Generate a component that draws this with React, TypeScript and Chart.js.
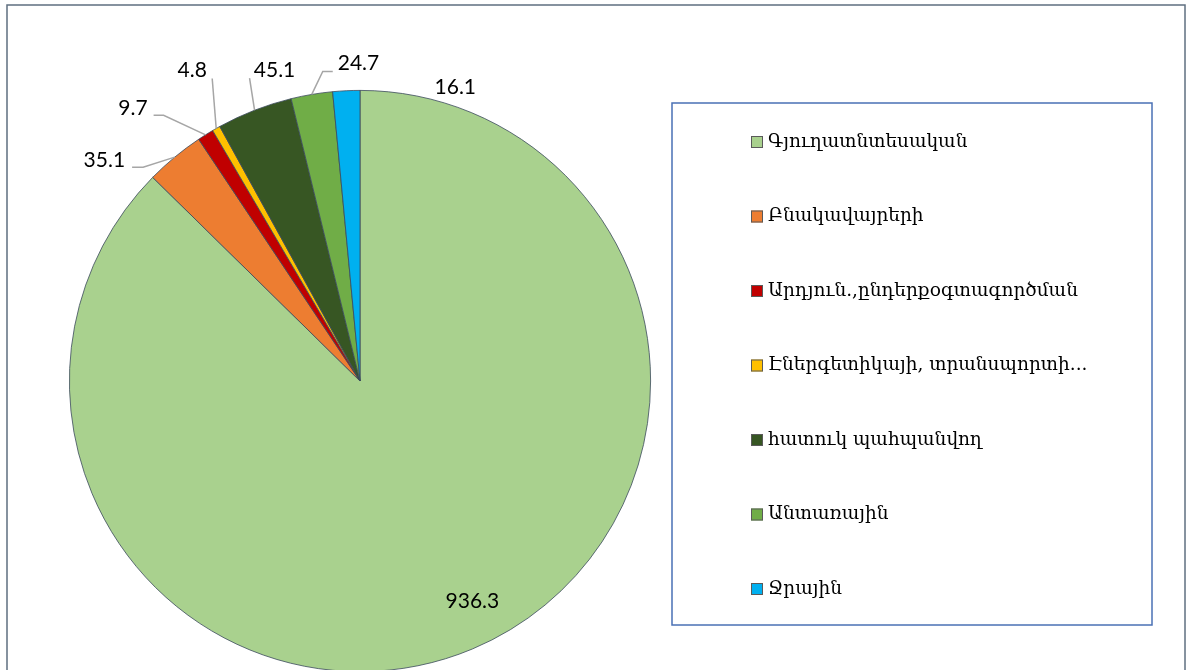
import React, { useEffect, useRef } from "react";
import { Chart, registerables } from "chart.js";

Chart.register(...registerables);

const categories = [
  "Գյուղատնտեսական",
  "Բնակավայրերի",
  "Արդյուն.,ընդերքօգտագործման",
  "Էներգետիկայի, տրանսպորտի...",
  "հատուկ պահպանվող",
  "Անտառային",
  "Ջրային",
];
const values = [936.3, 35.1, 9.7, 4.8, 45.1, 24.7, 16.1];
const valueLabels = ["936.3", "35.1", "9.7", "4.8", "45.1", "24.7", "16.1"];
const colors = ["#A9D18E", "#ED7D31", "#C00000", "#FFC000", "#375623", "#70AD47", "#00B0F0"];

// label layout relative to slice's outer mid-point: elbow, line end, text position
type LL = { elbow?: [number, number]; endDx?: number; text: [number, number]; align: CanvasTextAlign };
const labelLayout: LL[] = [
  { text: [0, -48], align: "center" },
  { elbow: [-31.6, 10], endDx: -42.6, text: [-49.6, 3], align: "right" },
  { elbow: [-42, -19.5], endDx: -52, text: [-58, -26.5], align: "right" },
  { elbow: [-4, -50], text: [-24, -58], align: "center" },
  { elbow: [-5, -32], text: [20, -40], align: "center" },
  { elbow: [11, -23], endDx: 21, text: [26, -31], align: "left" },
  { text: [109, -3], align: "center" },
];

const framePlugin = {
  id: "frame",
  beforeDraw(chart: any) {
    const ctx = chart.ctx;
    ctx.save();
    ctx.fillStyle = "#ffffff";
    ctx.fillRect(0, 0, chart.width, chart.height);
    ctx.strokeStyle = "#5f6f80";
    ctx.lineWidth = 1.5;
    ctx.strokeRect(7, 5, 1178, 900);
    ctx.restore();
  },
};

const labelsPlugin = {
  id: "sliceLabels",
  afterDatasetsDraw(chart: any) {
    const ctx = chart.ctx;
    const meta = chart.getDatasetMeta(0);
    ctx.save();
    meta.data.forEach((arc: any, i: number) => {
      const { x, y, startAngle, endAngle, outerRadius } = arc.getProps(
        ["x", "y", "startAngle", "endAngle", "outerRadius"],
        true
      );
      const mid = (startAngle + endAngle) / 2;
      const ax = x + Math.cos(mid) * outerRadius;
      const ay = y + Math.sin(mid) * outerRadius;
      const L = labelLayout[i];
      if (L.elbow) {
        ctx.beginPath();
        ctx.strokeStyle = "#a6a6a6";
        ctx.lineWidth = 1.5;
        ctx.moveTo(ax, ay);
        const ex = ax + L.elbow[0];
        const ey = ay + L.elbow[1];
        ctx.lineTo(ex, ey);
        if (L.endDx !== undefined) ctx.lineTo(ax + L.endDx, ey);
        ctx.stroke();
      }
      ctx.fillStyle = "#000000";
      ctx.font = "21px Lato";
      ctx.textAlign = L.align;
      ctx.textBaseline = "middle";
      ctx.fillText(valueLabels[i], ax + L.text[0], ay + L.text[1]);
    });
    ctx.restore();
  },
};

const legendPlugin = {
  id: "boxLegend",
  afterDraw(chart: any) {
    const ctx = chart.ctx;
    ctx.save();
    ctx.strokeStyle = "#4a70b5";
    ctx.lineWidth = 1.5;
    ctx.strokeRect(672, 103, 480, 522);
    const firstY = 142;
    const step = 74.5;
    categories.forEach((c, i) => {
      const cy = firstY + i * step;
      ctx.fillStyle = colors[i];
      ctx.fillRect(751, cy - 6, 12, 12);
      ctx.strokeStyle = "#5a5a5a";
      ctx.lineWidth = 1;
      ctx.strokeRect(751.5, cy - 5.5, 11, 11);
      ctx.fillStyle = "#000000";
      ctx.font = "18.5px 'DejaVu Serif'";
      ctx.textAlign = "left";
      ctx.textBaseline = "middle";
      ctx.fillText(c, 768, cy);
    });
    ctx.restore();
  },
};

export default function App() {
  const ref = useRef<HTMLCanvasElement | null>(null);
  useEffect(() => {
    document.body.style.margin = "0";
    document.body.style.overflow = "hidden";
    const chart = new Chart(ref.current as HTMLCanvasElement, {
      type: "pie",
      data: {
        labels: categories,
        datasets: [
          {
            data: values,
            backgroundColor: colors,
            borderColor: "#3b4a5c",
            borderWidth: 0.8,
          },
        ],
      },
      options: {
        animation: false,
        responsive: false,
        devicePixelRatio: 1,
        layout: { padding: { left: 69, right: 539, top: 90, bottom: 28 } },
        plugins: { legend: { display: false }, tooltip: { enabled: false } },
      },
      plugins: [framePlugin, labelsPlugin, legendPlugin],
    });
    return () => chart.destroy();
  }, []);
  return (
    <div style={{ position: "fixed", left: 0, top: 0, width: 1190, height: 670, overflow: "hidden", background: "#fff" }}>
      <canvas ref={ref} width={1190} height={700} style={{ display: "block" }} />
    </div>
  );
}
